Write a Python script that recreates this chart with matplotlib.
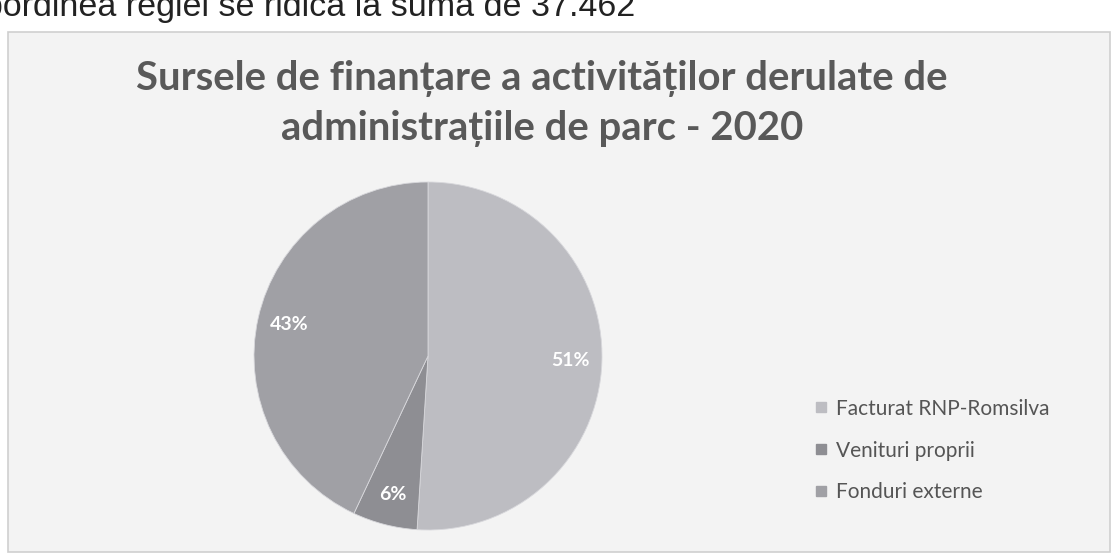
import matplotlib.pyplot as plt
from matplotlib.patches import Rectangle
from matplotlib.lines import Line2D

# date
categorii = ['Facturat RNP-Romsilva', 'Venituri proprii', 'Fonduri externe']
procente = [51, 6, 43]
culori = ['#bdbdc2', '#8e8e93', '#a0a0a5']

titlu = ['Sursele de finanțare a activităților derulate de',
         'administrațiile de parc - 2020']
text_sus = 'bordinea regiei se ridica la suma de 37.462'

W, H = 1116, 558
fig = plt.figure(figsize=(W / 100, H / 100), dpi=100)
fig.patch.set_facecolor('white')

# chenarul graficului
fig.patches.append(Rectangle((8 / W, 1 - 552 / H), 1102 / W, 520 / H,
                             transform=fig.transFigure, facecolor='#f3f3f3',
                             edgecolor='#cfcfcf', lw=1.2, zorder=-10))

# rand de text taiat sus (scanare)
fig.text(-16 / W, 1 - 16 / H, text_sus, fontsize=24.5, family='Liberation Sans',
         color='#222222', ha='left', va='baseline')

for i, linie in enumerate(titlu):
    fig.text(542 / W, 1 - (90 + 50 * i) / H, linie, fontsize=28.8, family='Lato',
             weight='bold', color='#595959', ha='center', va='baseline')

cx, cy, r = 428, 356, 174
ax = fig.add_axes([(cx - r) / W, 1 - (cy + r) / H, 2 * r / W, 2 * r / H])
ax.set_zorder(2)
felii, texte, pct = ax.pie(procente, colors=culori, startangle=90, counterclock=False,
                           autopct='%1.0f%%', pctdistance=0.82,
                           wedgeprops=dict(edgecolor='#d8d8dc', linewidth=0.6))
for t in pct:
    t.set_color('white')
    t.set_fontsize(14)
    t.set_family('Lato')
    t.set_weight('bold')
ax.set_xlim(-1, 1)
ax.set_ylim(-1, 1)
ax.set_aspect('equal')
ax.axis('off')

handles = [Line2D([], [], marker='s', ls='none', markersize=7,
                  markerfacecolor=c, markeredgecolor=c) for c in culori]
leg = fig.legend(handles, categorii, loc='upper left',
                 bbox_to_anchor=(796 / W, 1 - 380 / H), frameon=False,
                 handlelength=0.6, handletextpad=0.4, labelspacing=1.05,
                 prop={'family': 'Lato', 'size': 15})
for t in leg.get_texts():
    t.set_color('#555555')

fig.savefig('out.png', dpi=100)
